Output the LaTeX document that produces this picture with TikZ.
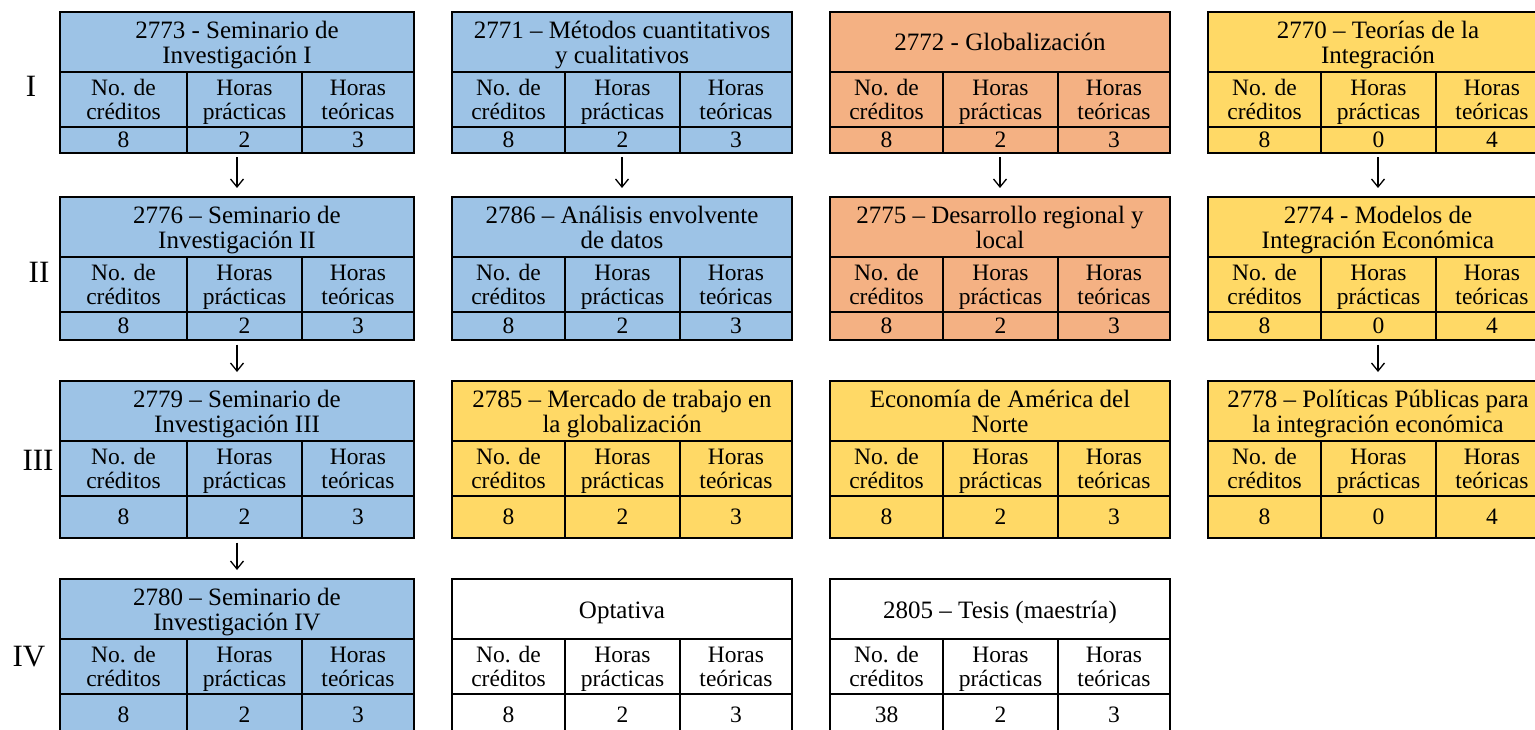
\documentclass[tikz,border=0pt]{standalone}
\usepackage{fontspec}
\setmainfont{Liberation Serif}
\usetikzlibrary{arrows.meta, calc}

\definecolor{colAzul}{HTML}{9DC3E6}
\definecolor{colNaranja}{HTML}{F4B183}
\definecolor{colAmarillo}{HTML}{FFD966}

\begin{document}
\begin{tikzpicture}[x=1pt, y=-1pt,
  azul/.style={fill=colAzul, draw=black, line width=2.2pt},
  naranja/.style={fill=colNaranja, draw=black, line width=2.2pt},
  amarillo/.style={fill=colAmarillo, draw=black, line width=2.2pt},
  blanco/.style={fill=white, draw=black, line width=1.2pt},
  titulo/.style={font=\fontsize{25}{25}\selectfont, align=center, inner sep=0pt},
  celda/.style={font=\fontsize{23.5}{23}\selectfont, align=center, inner sep=0pt},
  semestre/.style={font=\fontsize{31}{31}\selectfont, inner sep=0pt},
  flecha/.style={-{Straight Barb[length=8pt, width=13pt]}, line width=1.3pt, shorten <=4.5pt, shorten >=9pt}]
\useasboundingbox (0,0) rectangle (1535,730);
\clip (0,0) rectangle (1535,730);

% Semesters
\node[semestre] (sI) at (31,86) {I};
\node[semestre] (sII) at (39,272) {II};
\node[semestre] (sIII) at (38,460) {III};
\node[semestre] (sIV) at (29,657) {IV};

% Courses: name/left/width/top/value row/style/title/credits/practice/theory
\foreach \n/\L/\W/\T/\Hv/\estilo/\tit/\va/\vb/\vc in {
    c2773/60/354/12/26/azul/{2773 - Seminario de\\Investigación I}/8/2/3,
    c2771/452/340/12/26/azul/{2771 – Métodos cuantitativos\\y cualitativos}/8/2/3,
    c2772/830/340/12/26/naranja/{2772 - Globalización}/8/2/3,
    c2770/1208/340/12/26/amarillo/{2770 – Teorías de la\\Integración}/8/0/4,
    c2776/60/354/197/28/azul/{2776 – Seminario de\\Investigación II}/8/2/3,
    c2786/452/340/197/28/azul/{2786 – Análisis envolvente\\de datos}/8/2/3,
    c2775/830/340/197/28/naranja/{2775 – Desarrollo regional y\\local}/8/2/3,
    c2774/1208/340/197/28/amarillo/{2774 - Modelos de\\Integración Económica}/8/0/4,
    c2779/60/354/381/42/azul/{2779 – Seminario de\\Investigación III}/8/2/3,
    c2785/452/340/381/42/amarillo/{2785 – Mercado de trabajo en\\la globalización}/8/2/3,
    ean/830/340/381/42/amarillo/{Economía de América del\\Norte}/8/2/3,
    c2778/1208/340/381/42/amarillo/{2778 – Políticas Públicas para\\la integración económica}/8/0/4,
    c2780/60/354/579/42/azul/{2780 – Seminario de\\Investigación IV}/8/2/3,
    opt/452/340/579/42/blanco/{Optativa}/8/2/3,
    c2805/830/340/579/42/blanco/{2805 – Tesis (maestría)}/38/2/3} {
  \node[\estilo, anchor=north west, minimum width=\W pt, minimum height={(115+\Hv)*1pt}, inner sep=0pt, outer sep=0pt] (\n) at (\L,\T) {};
  \draw[\estilo, fill=none] (\L,\T+60) -- ++(\W,0) (\L,\T+115) -- ++(\W,0)
    (\L+\W-227,\T+60) -- (\L+\W-227,\T+115+\Hv)
    (\L+\W-112,\T+60) -- (\L+\W-112,\T+115+\Hv);
  \node[titulo] (\n-t) at (\L+\W/2,\T+34) {\strut\tit\strut};
  \node[celda] (\n-h1) at ({\L+(\W-227)/2},\T+91) {\strut No. de\\créditos\strut};
  \node[celda] (\n-h2) at (\L+\W-169.5,\T+91) {\strut Horas\\prácticas\strut};
  \node[celda] (\n-h3) at (\L+\W-56,\T+91) {\strut Horas\\teóricas\strut};
  \node[celda] (\n-v1) at ({\L+(\W-227)/2},{\T+115+\Hv/2}) {\va};
  \node[celda] (\n-v2) at (\L+\W-169.5,{\T+115+\Hv/2}) {\vb};
  \node[celda] (\n-v3) at (\L+\W-56,{\T+115+\Hv/2}) {\vc};
}

% Sequence
\draw[flecha] (c2773) -- (c2776);
\draw[flecha] (c2771) -- (c2786);
\draw[flecha] (c2772) -- (c2775);
\draw[flecha] (c2770) -- (c2774);
\draw[flecha] (c2776) -- (c2779);
\draw[flecha] (c2774) -- (c2778);
\draw[flecha] (c2779) -- (c2780);

\end{tikzpicture}
\end{document}
